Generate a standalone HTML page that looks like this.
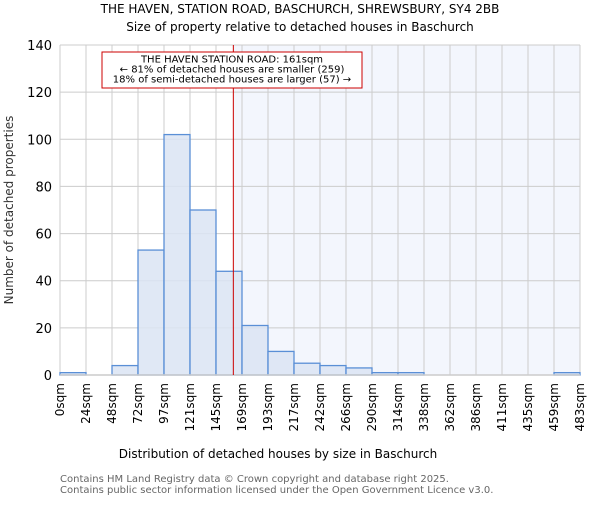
<!DOCTYPE html>
<html><head><meta charset="utf-8"><style>
body{margin:0;background:#fff}
svg{font-family:"DejaVu Sans","Liberation Sans",sans-serif}
</style></head><body>
<svg id="c" width="600" height="500" viewBox="0 0 600 500">
<text x="300" y="13" text-anchor="middle" font-size="12">THE HAVEN, STATION ROAD, BASCHURCH, SHREWSBURY, SY4 2BB</text>
<text x="300" y="31" text-anchor="middle" font-size="12">Size of property relative to detached houses in Baschurch</text>
<g id="plot"></g>
<text x="278" y="458" text-anchor="middle" font-size="12">Distribution of detached houses by size in Baschurch</text>
<text transform="translate(13,210) rotate(-90)" text-anchor="middle" font-size="12" fill="#333">Number of detached properties</text>
<text x="60" y="482" font-size="10" fill="#666">Contains HM Land Registry data © Crown copyright and database right 2025.</text>
<text x="60" y="493" font-size="10" fill="#666">Contains public sector information licensed under the Open Government Licence v3.0.</text>
</svg>
<script>
const edgeLabels=["0sqm","24sqm","48sqm","72sqm","97sqm","121sqm","145sqm","169sqm","193sqm","217sqm","242sqm","266sqm","290sqm","314sqm","338sqm","362sqm","386sqm","411sqm","435sqm","459sqm","483sqm"];
const counts=[1,0,4,53,102,70,44,21,10,5,4,3,1,1,0,0,0,0,0,1];
const yTicks=[0,20,40,60,80,100,120,140];
const propertySize=161;
const X0=60,X1=580,Y0=375,Y1=45,YMAX=140,NB=counts.length,MAXSIZE=483;
const xb=i=>X0+(X1-X0)*i/NB;
const xs=v=>X0+(X1-X0)*v/MAXSIZE;
const y=v=>Y0-(Y0-Y1)*v/YMAX;
const NS="http://www.w3.org/2000/svg";
const g=document.getElementById('plot');
function mk(t,a){const e=document.createElementNS(NS,t);for(const k in a)e.setAttribute(k,a[k]);g.appendChild(e);return e;}
const px=xs(propertySize);
let e=mk('rect',{x:px,y:Y1,width:X1-px,height:Y0-Y1,fill:'#f3f6fd'});


yTicks.forEach(t=>{
 let l=mk('line',{x1:X0,x2:X1,y1:y(t),y2:y(t),stroke:'#ccc','stroke-width':1});
 
 
 let tx=mk('text',{x:X0-8,y:y(t)+5,'text-anchor':'end','font-size':13});
 tx.textContent=t;
 
 
});
edgeLabels.forEach((s,i)=>{
 let l=mk('line',{x1:xb(i),x2:xb(i),y1:Y1,y2:Y0,stroke:'#ccc','stroke-width':1});
 
 
 let tx=mk('text',{transform:`translate(${xb(i)+4},${Y0+8}) rotate(-90)`,'text-anchor':'end','font-size':12});
 tx.textContent=s;
 
 
});
counts.forEach((c,i)=>{
 if(c<=0)return;
 let r=mk('rect',{x:xb(i),y:y(c),width:xb(i+1)-xb(i),height:Y0-y(c),fill:'#dae4f3','fill-opacity':0.85,stroke:'#5a8fd6','stroke-width':1.3});
 
 
});
e=mk('line',{x1:X0,x2:X1,y1:Y0,y2:Y0,stroke:'#ccc','stroke-width':1.5});


e=mk('line',{x1:px,x2:px,y1:Y1,y2:Y0,stroke:'#c00','stroke-width':1});


e=mk('rect',{x:102,y:52,width:260,height:36,fill:'#fff',stroke:'#c00','stroke-width':1});


["THE HAVEN STATION ROAD: 161sqm","← 81% of detached houses are smaller (259)","18% of semi-detached houses are larger (57) →"].forEach((s,i)=>{
 let t=mk('text',{x:232,y:62.5+i*10,'text-anchor':'middle','font-size':10});
 t.textContent=s;
 
 
});
</script>
</body></html>
